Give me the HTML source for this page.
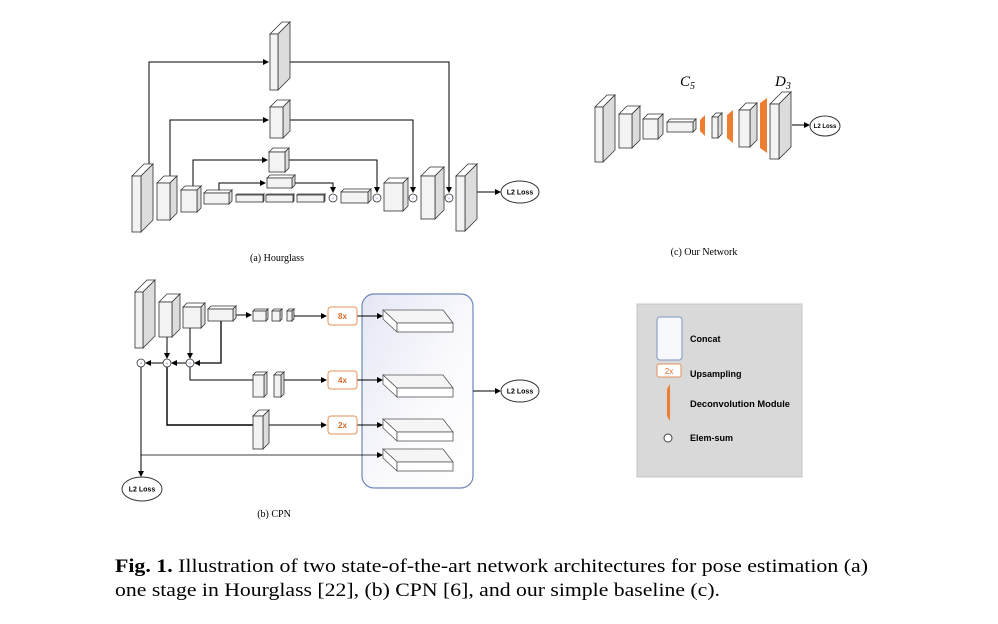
<!DOCTYPE html>
<html><head><meta charset="utf-8"><style>
html,body{margin:0;padding:0;background:#fff;}
svg{display:block;}
.s{font-family:"Liberation Serif",serif;}
.l{font-family:"Liberation Sans",sans-serif;font-weight:bold;}
</style></head><body>
<svg id="g" width="998" height="624" viewBox="0 0 998 624" xmlns="http://www.w3.org/2000/svg">
<defs>
<marker id="a" markerWidth="6" markerHeight="6" refX="5" refY="3" orient="auto" markerUnits="userSpaceOnUse"><path d="M0,0 L6,3 L0,6z" fill="#000"/></marker>
<linearGradient id="bg" x1="0" y1="0" x2="1" y2="1"><stop offset="0" stop-color="#e4e7f4"/><stop offset="0.6" stop-color="#fbfbfe"/><stop offset="1" stop-color="#fff"/></linearGradient>
</defs>
<rect x="362" y="294" width="111" height="194" rx="12" fill="url(#bg)" stroke="#6f87b5" stroke-width="1.2"/>
<rect x="637" y="304" width="165" height="173" fill="#d9d9d9" stroke="#c4c4c4"/>
<rect x="657" y="317" width="25" height="43" rx="3" fill="#f8f9fd" stroke="#7e95c2"/>
<rect x="657" y="364" width="24" height="13" rx="2" fill="#fff" stroke="#e0905a"/>
<text x="669" y="374" font-size="8" fill="#d86b2a" text-anchor="middle" class="l" style="font-weight:normal">2x</text>
<polygon points="670,384 670,421 667,416 667,389" fill="#ed7d31"/>
<circle cx="668" cy="438" r="4" fill="#fff" stroke="#444"/>
<text x="690" y="342" font-size="9" class="l">Concat</text>
<text x="690" y="377" font-size="9" class="l">Upsampling</text>
<text x="690" y="407" font-size="9" class="l" textLength="100" lengthAdjust="spacingAndGlyphs">Deconvolution Module</text>
<text x="690" y="441" font-size="9" class="l">Elem-sum</text>
<text x="277" y="261" font-size="10" class="s" text-anchor="middle">(a) Hourglass</text>
<text x="274" y="517" font-size="10" class="s" text-anchor="middle">(b) CPN</text>
<text x="704" y="255" font-size="10" class="s" text-anchor="middle">(c) Our Network</text>
<text x="680" y="86" font-size="15" class="s" font-style="italic">C<tspan font-size="10" dy="3">5</tspan></text>
<text x="775" y="86" font-size="15" class="s" font-style="italic">D<tspan font-size="10" dy="3">3</tspan></text>
<text x="115" y="572" font-size="19" class="s" textLength="753" lengthAdjust="spacingAndGlyphs"><tspan font-weight="bold">Fig. 1.</tspan> Illustration of two state-of-the-art network architectures for pose estimation (a)</text>
<text x="115" y="596" font-size="19" class="s" textLength="605" lengthAdjust="spacingAndGlyphs">one stage in Hourglass [22], (b) CPN [6], and our simple baseline (c).</text>
</svg>
<script>
var g=document.getElementById('g'),NS='http://www.w3.org/2000/svg';
function el(t,at,txt){var e=document.createElementNS(NS,t);for(var k in at)e.setAttribute(k,at[k]);if(txt)e.textContent=txt;g.appendChild(e);return e;}
function box(x,y,w,h,d){
 el('polygon',{points:[x,y,x+d,y-d,x+w+d,y-d,x+w,y].join(' '),fill:'#fff',stroke:'#333','stroke-width':0.8});
 el('polygon',{points:[x+w,y,x+w+d,y-d,x+w+d,y+h-d,x+w,y+h].join(' '),fill:'#dcdcdc',stroke:'#333','stroke-width':0.8});
 el('rect',{x:x,y:y,width:w,height:h,fill:'#f3f3f3',stroke:'#333','stroke-width':0.8});
}
function ln(pts,arrow,sw){var e=el('polyline',{points:pts.join(' '),fill:'none',stroke:'#000','stroke-width':sw||1});if(arrow)e.setAttribute('marker-end','url(#a)');}
function plus(x,y){el('circle',{cx:x,cy:y,r:4,fill:'#fff',stroke:'#333','stroke-width':0.8});el('text',{x:x,y:y+2,'font-size':5,fill:'#3a5fb0','text-anchor':'middle'},'+');}
function loss(x,y,rx,ry,fs){el('ellipse',{cx:x,cy:y,rx:rx,ry:ry,fill:'#fff',stroke:'#333'});el('text',{x:x,y:y+fs/3,'font-size':fs,'text-anchor':'middle','class':'l'},'L2 Loss');}
function up(x,y,t){el('rect',{x:x,y:y,width:29,height:18,rx:3,fill:'#fff',stroke:'#e0905a'});el('text',{x:x+14.5,y:y+12,'font-size':8,fill:'#d86b2a','text-anchor':'middle','class':'l'},t);}
function slab(y){var x=383;
 el('polygon',{points:[x,y,x+60,y,x+70,y+13,x+14,y+13].join(' '),fill:'#f5f5f5',stroke:'#555','stroke-width':0.8});
 el('polygon',{points:[x,y,x+14,y+13,x+14,y+22,x,y+9].join(' '),fill:'#fff',stroke:'#555','stroke-width':0.8});
 el('rect',{x:x+14,y:y+13,width:56,height:9,fill:'#fff',stroke:'#555','stroke-width':0.8});}
function dec(x,y1,y2,w){el('polygon',{points:[x+w,y1,x+w,y2,x,y2-5,x,y1+5].join(' '),fill:'#ed7d31'});}
ln([149,166,149,62,268,62],1);ln([278,62,449,62,449,192],1);
ln([170,181,170,120,268,120],1);ln([283,120,413,120,413,192],1);
ln([193,188,193,160,267,160],1);ln([285,160,377,160,377,192],1);
ln([219,191,219,183,265,183],1);ln([292,183,333,183,333,192],1);
ln([477,192,500,192],1);
box(132,176,9,56,12);box(157,183,13,37,7);box(181,190,16,22,4);box(204,193,25,11,3);
box(236,195,27,7,1);box(266,195,27,7,1);box(297,195,27,7,1);box(267,178,25,10,3);
box(341,192,27,11,3);box(384,183,19,28,5);box(421,176,14,43,9);box(456,176,9,55,12);
box(270,34,8,56,12);box(270,107,13,31,7);box(269,152,16,20,4);
plus(333,198);plus(377,198);plus(413,198);plus(449,198);
loss(520,192,19,11,7);
ln([233,315,251,315],1);ln([293,316,326,316],1);ln([357,316,382,316],1);
ln([221,321,221,363,195,363],1,1.3);ln([190,328,190,358],1);ln([167,337,167,358],1);
ln([186,363,172,363],1);ln([163,363,146,363],1);
ln([190,367,190,380,253,380],0);ln([284,380,326,380],1);ln([357,380,382,380],1);
ln([167,367,167,425,253,425],0,1.4);ln([268,425,326,425],1);ln([357,425,382,425],1);
ln([141,367,141,476],1);ln([141,455,382,455],1,0.8);
ln([473,391,500,391],1);
box(135,292,8,56,12);box(159,302,13,35,8);box(183,307,18,21,4);box(208,309,25,12,3);
box(253,311,13,10,2);box(272,311,8,10,2);box(287,311,5,10,2);
box(253,375,11,22,3);box(274,375,7,22,3);box(253,416,10,33,6);
plus(141,363);plus(167,363);plus(190,363);
up(328,307,'8x');up(328,371,'4x');up(328,416,'2x');
slab(310);slab(375);slab(419);slab(449);
loss(520,391,19,11,7);loss(142,489,20,12,7);
box(595,107,8,55,12);box(619,114,13,34,8);box(643,119,15,20,5);box(667,122,26,10,3);
dec(700,115,136,5);box(712,117,6,21,4);dec(727,110,143,6);box(739,110,11,37,7);dec(760,98,153,7);box(770,104,9,55,12);
ln([792,125,809,125],1);loss(825,126,15,10,6);
</script>
</body></html>
